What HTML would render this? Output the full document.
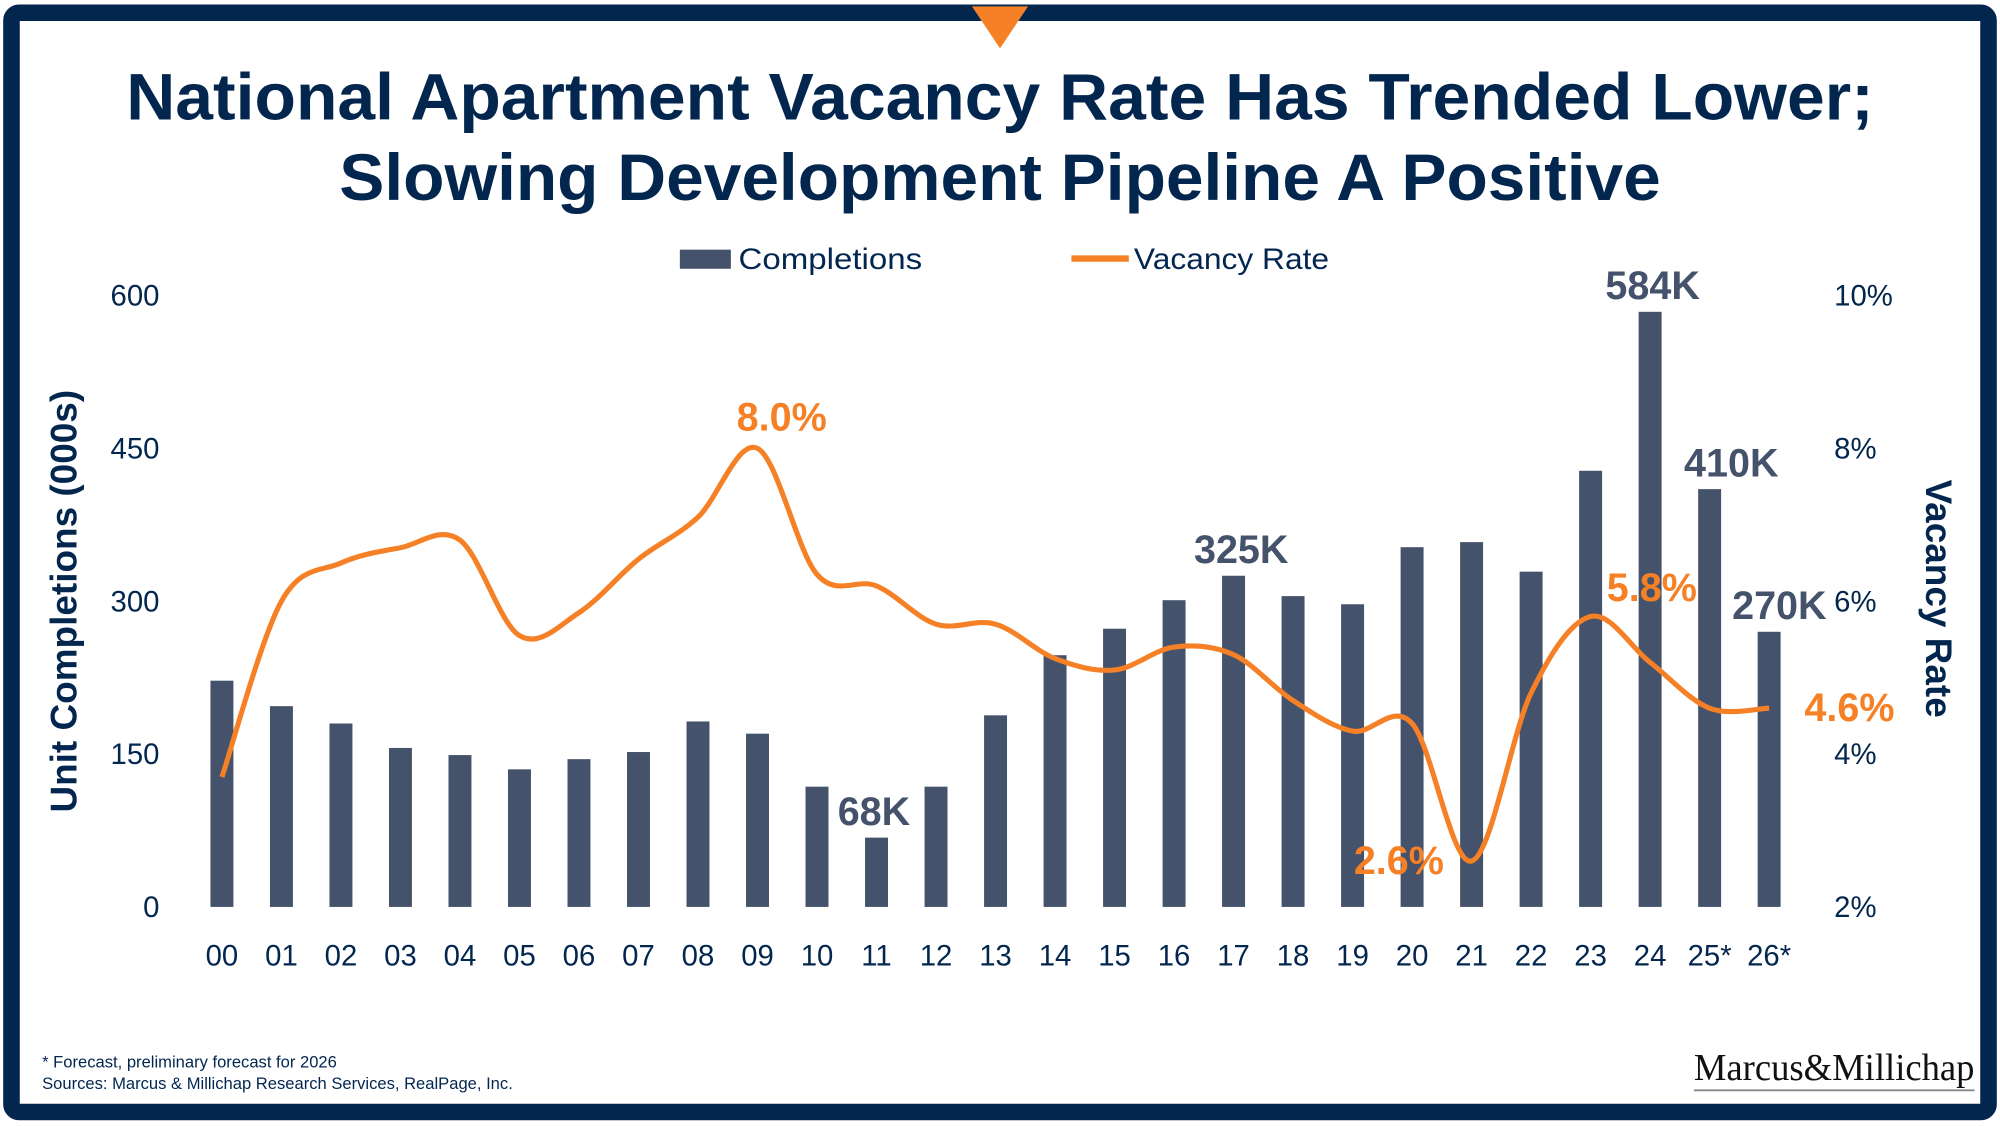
<!DOCTYPE html>
<html><head><meta charset="utf-8"><style>
html,body{margin:0;padding:0;background:#fff;}
svg{display:block;}
text{font-family:"Liberation Sans",sans-serif;}
</style></head><body>
<svg id="chart" width="2000" height="1126" viewBox="0 0 1568 884" preserveAspectRatio="none" xmlns="http://www.w3.org/2000/svg">
<rect x="0" y="0" width="1568" height="884" fill="#fff"/>
<rect x="9" y="10" width="1550" height="863" rx="6" fill="none" stroke="#03264f" stroke-width="13"/>
<path d="M762,5 L806,5 L784,38 Z" fill="#f58025"/>
<text x="784" y="94" text-anchor="middle" font-size="52" font-weight="bold" fill="#03264f" textLength="1370" lengthAdjust="spacingAndGlyphs">National Apartment Vacancy Rate Has Trended Lower;</text>
<text x="784" y="157" text-anchor="middle" font-size="52" font-weight="bold" fill="#03264f" textLength="1036" lengthAdjust="spacingAndGlyphs">Slowing Development Pipeline A Positive</text>
<g>
<rect x="533" y="196" width="40" height="15" fill="#45526b"/>
<text x="579" y="211" font-size="23" fill="#03264f" textLength="144" lengthAdjust="spacingAndGlyphs">Completions</text>
<line x1="840" y1="203" x2="885" y2="203" stroke="#f58025" stroke-width="5"/>
<text x="889" y="211" font-size="23" fill="#03264f" textLength="153" lengthAdjust="spacingAndGlyphs">Vacancy Rate</text>
</g>
<text transform="translate(60,472) rotate(-90)" text-anchor="middle" font-size="29" font-weight="bold" fill="#03264f">Unit Completions (000s)</text>
<text transform="translate(1510,470) rotate(90)" text-anchor="middle" font-size="29" font-weight="bold" fill="#03264f">Vacancy Rate</text>
<g id="plot"></g>
<text x="33" y="838" font-size="13" fill="#03264f">* Forecast, preliminary forecast for 2026</text>
<text x="33" y="855" font-size="13" fill="#03264f">Sources: Marcus &amp; Millichap Research Services, RealPage, Inc.</text>
<text x="1328" y="848" style="font-family:'Liberation Serif',serif" font-size="30" fill="#111" textLength="220" lengthAdjust="spacingAndGlyphs">Marcus&amp;Millichap</text>
<line x1="1328" y1="856" x2="1548" y2="856" stroke="#888" stroke-width="1.5"/>
</svg>
<script>
const categories = ["00","01","02","03","04","05","06","07","08","09","10","11","12","13","14","15","16","17","18","19","20","21","22","23","24","25*","26*"];
const completions = [222,197,180,156,149,135,145,152,182,170,118,68,118,188,247,273,301,325,305,297,353,358,329,428,584,410,270];
const vacancy = [3.7,6.0,6.5,6.7,6.8,5.55,5.85,6.55,7.1,8.0,6.35,6.2,5.7,5.7,5.25,5.1,5.4,5.3,4.7,4.3,4.4,2.6,4.8,5.8,5.2,4.6,4.6];
const leftTicks = [0,150,300,450,600];
const rightTicks = [2,4,6,8,10];
const barLabels = [{i:11,t:"68K",dx:-2},{i:17,t:"325K",dx:6},{i:24,t:"584K",dx:2},{i:25,t:"410K",dx:17},{i:26,t:"270K",dx:8}];
const vacLabels = [{i:9,t:"8.0%",dx:19,dy:-14},{i:23,t:"5.8%",dx:48,dy:-12},{i:21,t:"2.6%",dx:-57,dy:10},{i:26,t:"4.6%",dx:63,dy:10}];

const NS="http://www.w3.org/2000/svg";
const plot=document.getElementById('plot');
const x0=174,xStep=(1387-174)/26,yBase=712,yTop=232;
const xs=i=>x0+i*xStep;
const yL=v=>yBase-(v/600)*(yBase-yTop);
const yR=v=>yBase-((v-2)/8)*(yBase-yTop);
function mk(tag,attrs,txt){const e=document.createElementNS(NS,tag);for(const k in attrs)e.setAttribute(k,attrs[k]);if(txt!==undefined)e.textContent=txt;plot.appendChild(e);return e;}

leftTicks.forEach(v=>{
const t=mk('text',{x:125,y:yL(v)+8,'text-anchor':'end','font-size':23,fill:'#03264f'},String(v));


});
rightTicks.forEach(v=>{
const t=mk('text',{x:1438,y:yR(v)+8,'font-size':23,fill:'#03264f'},v+'%');


});
completions.forEach((v,i)=>{
const r=mk('rect',{x:xs(i)-9,y:yL(v),width:18,height:yBase-yL(v),fill:'#45526b'});


});
categories.forEach((c,i)=>{
const t=mk('text',{x:xs(i),y:758,'text-anchor':'middle','font-size':23,fill:'#03264f'},c);


});
const pts=vacancy.map((v,i)=>[xs(i),yR(v)]);
let d='M'+pts[0][0]+','+pts[0][1];
for(let i=0;i<pts.length-1;i++){
const p0=pts[Math.max(0,i-1)],p1=pts[i],p2=pts[i+1],p3=pts[Math.min(pts.length-1,i+2)];
const c1=[p1[0]+(p2[0]-p0[0])/6,p1[1]+(p2[1]-p0[1])/6];
const c2=[p2[0]-(p3[0]-p1[0])/6,p2[1]-(p3[1]-p1[1])/6];
d+=' C'+c1+' '+c2+' '+p2;
}
const line=mk('path',{d:d,fill:'none',stroke:'#f58025','stroke-width':4,'stroke-linejoin':'round'});


barLabels.forEach(b=>{
const t=mk('text',{x:xs(b.i)+b.dx,y:yL(completions[b.i])-10,'text-anchor':'middle','font-size':31,'font-weight':'bold',fill:'#45526b'},b.t);


});
vacLabels.forEach(b=>{
const t=mk('text',{x:xs(b.i)+b.dx,y:yR(vacancy[b.i])+b.dy,'text-anchor':'middle','font-size':31,'font-weight':'bold',fill:'#f58025'},b.t);


});
</script>
</body></html>
